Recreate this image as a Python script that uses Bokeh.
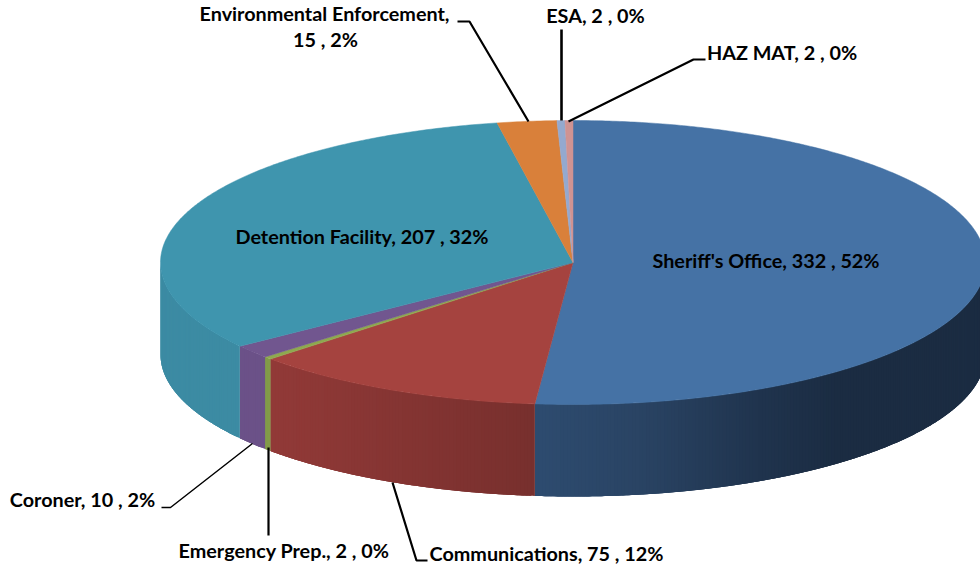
import numpy as np
from bokeh.plotting import figure
from bokeh.models import Range1d, ColumnDataSource
from bokeh.core.properties import value
from bokeh.embed import file_html
from bokeh.resources import INLINE

# data, clockwise from twelve o'clock
categories = ["Sheriff's Office", "Communications", "Emergency Prep.", "Coroner",
              "Detention Facility", "Environmental Enforcement", "ESA", "HAZ MAT"]
values = [332, 75, 2, 10, 207, 15, 2, 2]
label_lines = [
    ["Sheriff's Office, 332 , 52%"],
    ["Communications, 75 , 12%"],
    ["Emergency Prep., 2 , 0%"],
    ["Coroner, 10 , 2%"],
    ["Detention Facility, 207 , 32%"],
    ["Environmental Enforcement,", "15 , 2%"],
    ["ESA, 2 , 0%"],
    ["HAZ MAT, 2 , 0%"],
]

# styles
top_colors = ["#4572A5", "#A5433F", "#8EA94F", "#71568F", "#3F95AE", "#D9803A", "#94A9CF", "#D09392"]
# side colour stops: (x position, rgb)
side_stops = {
    0: [(535, (46, 76, 112)), (640, (42, 68, 100)), (760, (32, 52, 78)), (840, (27, 44, 66)), (985, (27, 44, 66))],
    1: [(270, (146, 58, 56)), (535, (120, 48, 46))],
    2: [(260, (130, 155, 72)), (275, (130, 155, 72))],
    3: [(235, (107, 81, 136)), (270, (107, 81, 136))],
    4: [(160, (60, 139, 163)), (245, (60, 139, 163))],
}
CX, CY, RX, RY, DEPTH = 572.5, 262, 412.5, 142, 92
label_xy = [[(765.5, 259)], [(546, 552)], [(283.5, 549)], [(82, 498)], [(361.5, 235)],
            [(324, 12), (325, 38)], [(595, 14)], [(781.5, 51)]]
leaders = [
    ([457, 469, 528], [21, 21, 121], 2.2),
    ([561, 561], [29, 120], 2.6),
    ([705, 693, 568], [59, 59, 121], 2.2),
    ([161, 170, 252], [507, 507, 443], 1.5),
    ([268, 268], [535, 447], 2.2),
    ([427, 416, 392], [560, 560, 482], 2.2),
]


def px(t):
    return CX + RX * np.sin(np.radians(t))


def py(t):
    return CY - RY * np.cos(np.radians(t))


p = figure(width=980, height=565, output_backend="svg", toolbar_location=None,
           x_range=Range1d(0, 980), y_range=Range1d(565, 0), min_border=0,
           outline_line_color=None, background_fill_color="white", border_fill_color="white")
p.axis.visible = False
p.grid.visible = False

total = sum(values)
edges = np.concatenate([[0], np.cumsum(values)]) / total * 360.0

# side wall, overlapping strips so no seams show
xs, ys, cols = [], [], []
for i in range(len(values)):
    a, b = max(edges[i], 90.0), min(edges[i + 1], 270.0)
    if a >= b or i not in side_stops:
        continue
    n = max(2, int((b - a) / 0.5))
    ts = np.linspace(a, b, n + 1)
    sx = [s[0] for s in side_stops[i]]
    for t0, t1 in zip(ts[:-1], ts[1:]):
        xm = px((t0 + t1) / 2)
        rgb = [int(np.interp(xm, sx, [s[1][k] for s in side_stops[i]])) for k in range(3)]
        arc = np.linspace(t0, min(t1 + 1.0, b), 5)
        xs.append(list(px(arc)) + list(px(arc[::-1])))
        ys.append(list(py(arc)) + list(py(arc[::-1]) + DEPTH))
        cols.append("#%02x%02x%02x" % tuple(rgb))
p.patches(xs="xs", ys="ys", fill_color="cols", line_color=None,
          source=ColumnDataSource(dict(xs=xs, ys=ys, cols=cols)))

# top face
xs, ys = [], []
for i in range(len(values)):
    ts = np.linspace(edges[i], edges[i + 1], max(3, int((edges[i + 1] - edges[i]) / 0.5)))
    xs.append([CX] + list(px(ts)))
    ys.append([CY] + list(py(ts)))
p.patches(xs="xs", ys="ys", fill_color="cols", line_color="cols", line_width=0.5,
          source=ColumnDataSource(dict(xs=xs, ys=ys, cols=top_colors)))

# leader lines
for lx, ly, w in leaders:
    p.line(lx, ly, line_color="black", line_width=w)

# labels
tx, ty, tt = [], [], []
for lines, pts in zip(label_lines, label_xy):
    for s, (x, y) in zip(lines, pts):
        tx.append(x)
        ty.append(y)
        tt.append(s)
p.text(x="x", y="y", text="t", source=ColumnDataSource(dict(x=tx, y=ty, t=tt)),
       text_font=value("Lato"), text_font_style="bold", text_font_size="19.8px",
       text_color="black", text_align="center", text_baseline="middle")

open("out.html", "w").write(file_html(p, INLINE))
